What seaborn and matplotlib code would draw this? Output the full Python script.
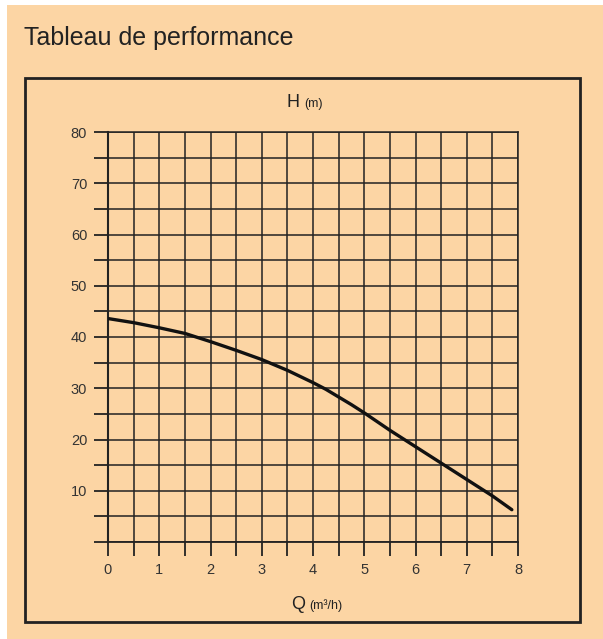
import numpy as np
import pandas as pd
import matplotlib
matplotlib.use("Agg")
import matplotlib.pyplot as plt
import seaborn as sns
from matplotlib.patches import Rectangle

# pump curve
debit = [0, 0.5, 1, 1.5, 2, 2.5, 3, 3.5, 4, 4.25, 4.5, 4.75, 5, 5.5, 6, 6.5, 7, 7.5, 7.88]
hauteur = [43.6, 42.8, 41.8, 40.7, 39.1, 37.4, 35.6, 33.5, 31.1, 29.8, 28.3, 26.8, 25.2, 21.8, 18.6, 15.4, 12.2, 9.0, 6.3]
x_labels = ["0", "1", "2", "3", "4", "5", "6", "7", "8"]
y_labels = ["10", "20", "30", "40", "50", "60", "70", "80"]

df = pd.DataFrame({"Q": debit, "H": hauteur})

peach = "#FCD5A4"
ink = "#222222"

sns.set_style("white")
plt.rcParams["font.family"] = ["Liberation Sans", "DejaVu Sans"]

W, H = 603, 639
fig = plt.figure(figsize=(W / 100, H / 100), dpi=100, facecolor=peach)

def fx(px):
    return px / W

def fy(py):
    return 1 - py / H

# white strips at top and left edge
fig.patches.append(Rectangle((0, fy(5)), 1, 5 / H, transform=fig.transFigure,
                             facecolor="white", edgecolor="none", zorder=0))
fig.patches.append(Rectangle((0, 0), fx(7), 1, transform=fig.transFigure,
                             facecolor="white", edgecolor="none", zorder=0))
# outer frame
fig.patches.append(Rectangle((fx(25), fy(622)), fx(580) - fx(25), fy(78) - fy(622),
                             transform=fig.transFigure, facecolor="none",
                             edgecolor=ink, linewidth=2.0, zorder=1))

ax = fig.add_axes([fx(108), fy(542), fx(518) - fx(108), fy(132) - fy(542)])
ax.set_facecolor(peach)

sns.lineplot(data=df, x="Q", y="H", ax=ax, color="#111111", linewidth=2.4,
             zorder=5)

ax.set_xlim(0, 8)
ax.set_ylim(0, 80)
xt = np.arange(0, 8.01, 0.5)
yt = np.arange(0, 80.01, 5)
ax.set_xticks(xt)
ax.set_xticklabels([x_labels[int(v)] if v == int(v) else "" for v in xt])
ax.set_yticks(yt)
ax.set_yticklabels([y_labels[int(v) // 10 - 1] if (v % 10 == 0 and v > 0) else "" for v in yt])

ax.grid(True, color=ink, linewidth=1.1)
ax.tick_params(axis="both", which="major", bottom=True, left=True,
               direction="out", length=10, width=1.3, color=ink,
               labelsize=10.5, labelcolor="#333333")
ax.tick_params(axis="y", pad=5)
ax.tick_params(axis="x", pad=5)
for s in ax.spines.values():
    s.set_color(ink)
    s.set_linewidth(1.1)
ax.spines["left"].set_linewidth(1.5)
ax.spines["bottom"].set_linewidth(1.3)
ax.set_xlabel("")
ax.set_ylabel("")

fig.text(fx(24), fy(45), "Tableau de performance", fontsize=18, color="#222222",
         ha="left", va="baseline")
fig.text(fx(300), fy(107), "H", fontsize=13, color="#222222", ha="right", va="baseline")
fig.text(fx(304), fy(107), "(m)", fontsize=9, color="#222222", ha="left", va="baseline")
fig.text(fx(305), fy(609), "Q", fontsize=13, color="#222222", ha="right", va="baseline")
fig.text(fx(309), fy(609), "(m³/h)", fontsize=9, color="#222222", ha="left", va="baseline")

fig.savefig("out.png", dpi=100, facecolor=peach)
